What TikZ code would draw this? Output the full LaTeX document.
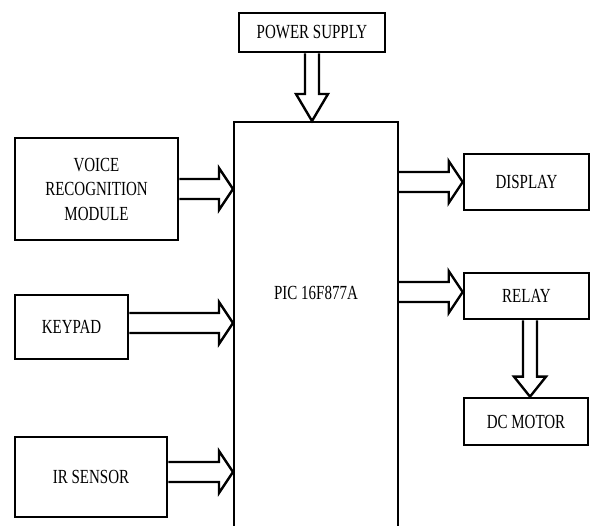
\documentclass[tikz,border=0pt]{standalone}
\usepackage{fontspec}
\setmainfont{Liberation Serif}[FakeStretch=0.75]
\usetikzlibrary{calc}
\tikzset{
  box/.style={draw, line width=2.6pt, align=center, inner sep=0pt, font=\fontsize{20}{24.5}\selectfont},
  mainbox/.style={draw, line width=2pt, inner sep=0pt},
  lbl/.style={inner sep=0pt, font=\fontsize{20}{24.5}\selectfont},
  blockarrow/.style={draw, line width=2.4pt, line join=miter, fill=white},
}
% horizontal block arrow from #1 to #2 (same y)
\newcommand\hblock[2]{\draw[blockarrow] let \p1=(#1), \p2=(#2) in
  (\x1,\y1+10pt) -- (\x2-14pt,\y1+10pt) -- (\x2-14pt,\y1+21pt) -- (\x2,\y1)
  -- (\x2-14pt,\y1-21pt) -- (\x2-14pt,\y1-10pt) -- (\x1,\y1-10pt);}
% vertical (downward) block arrow from #1 to #2, head length #3
\newcommand\vblock[3]{\draw[blockarrow] let \p1=(#1), \p2=(#2) in
  (\x1-7pt,\y1) -- (\x1-7pt,\y2+#3) -- (\x1-16pt,\y2+#3) -- (\x1,\y2)
  -- (\x1+16pt,\y2+#3) -- (\x1+7pt,\y2+#3) -- (\x1+7pt,\y1);}
\begin{document}
\begin{tikzpicture}[x=1pt,y=-1pt]
\useasboundingbox (0,0) rectangle (590,526);
\clip (0,0) rectangle (590,526);
\fill[white] (0,0) rectangle (590,526);
% main controller box (extends past the bottom edge)
\node[mainbox, minimum width=164pt, minimum height=420pt] (main) at (316,332) {};
\node[lbl] (pic) at (316,293) {PIC 16F877A};
% boxes
\node[box, minimum width=146pt, minimum height=39pt] (power) at (312,32.5) {POWER SUPPLY};
\node[box, minimum width=163pt, minimum height=102pt] (voice) at (96.5,189) {VOICE\\RECOGNITION\\MODULE};
\node[box, minimum width=113pt, minimum height=64pt] (keypad) at (71.5,327) {KEYPAD};
\node[box, minimum width=152pt, minimum height=80pt] (ir) at (91,477) {IR SENSOR};
\node[box, minimum width=125pt, minimum height=56pt] (display) at (526.5,182) {DISPLAY};
\node[box, minimum width=125pt, minimum height=46pt] (relay) at (526.5,296) {RELAY};
\node[box, minimum width=124pt, minimum height=47pt] (motor) at (526,421.5) {DC MOTOR};
% anchor coordinates for arrows
\coordinate (vs) at (voice.east);
\coordinate (ks) at ($(keypad.east)+(0,-4)$);
\coordinate (is) at ($(ir.east)+(0,-5)$);
\coordinate (ds) at (main.east |- display.west);
\coordinate (rs) at ($(main.east |- relay.west)+(0,-4)$);
\coordinate (ps) at (power.south);
\coordinate (rb) at ($(relay.south)+(3.5,0)$);
% arrows
\vblock{ps}{main.north}{27pt}
\hblock{vs}{main.west |- vs}
\hblock{ks}{main.west |- ks}
\hblock{is}{main.west |- is}
\hblock{ds}{display.west |- ds}
\hblock{rs}{relay.west |- rs}
\vblock{rb}{motor.north -| rb}{20pt}
\end{tikzpicture}
\end{document}
